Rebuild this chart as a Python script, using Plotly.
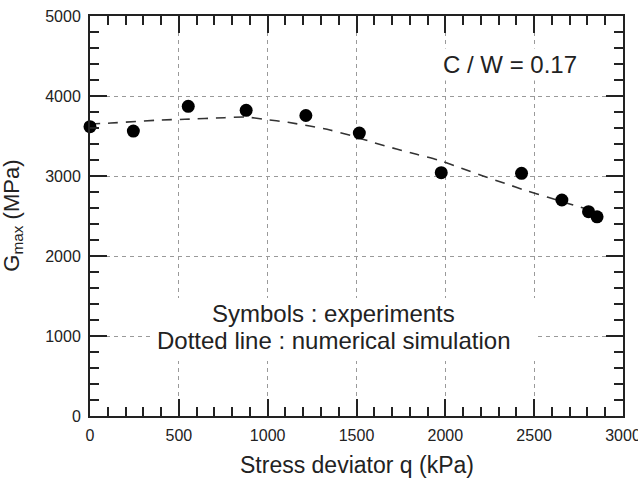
import plotly.graph_objects as go

# Experimental points (symbols)
q_exp = [0, 244, 553, 879, 1215, 1516, 1977, 2429, 2656, 2806, 2854]
g_exp = [3616, 3562, 3871, 3821, 3756, 3537, 3042, 3033, 2700, 2554, 2490]

# Numerical simulation (dashed line)
q_sim = [0, 118, 403, 534, 759, 870, 984, 1114, 1237, 1350, 1479, 1592,
         1725, 1838, 1959, 2091, 2212, 2334, 2456, 2578, 2700, 2820]
g_sim = [3650, 3662, 3700, 3709, 3729, 3738, 3708, 3671, 3625, 3575, 3500, 3421,
         3337, 3271, 3200, 3096, 3000, 2909, 2816, 2734, 2650, 2570]

x_ticks = [0, 500, 1000, 1500, 2000, 2500, 3000]
y_ticks = [0, 1000, 2000, 3000, 4000, 5000]

FONT = "Liberation Sans, Arial, sans-serif"
INK = "#222222"

fig = go.Figure()
fig.add_trace(go.Scatter(
    x=q_sim, y=g_sim, mode="lines",
    line=dict(color="#333333", width=1.6, dash="10px,8px", shape="spline", smoothing=0.6),
    hoverinfo="skip", showlegend=False))
fig.add_trace(go.Scatter(
    x=q_exp, y=g_exp, mode="markers",
    marker=dict(color="black", size=13, line=dict(width=0)),
    showlegend=False, cliponaxis=False))

axis_common = dict(
    showline=True, linecolor=INK, linewidth=2, mirror="allticks",
    ticks="inside", ticklen=17, tickwidth=1.5, tickcolor=INK,
    showgrid=True, gridcolor="#9a9a9a", gridwidth=1, griddash="4px,4px",
    zeroline=False, ticklabeloverflow="allow", automargin=False,
    tickfont=dict(family=FONT, size=16, color=INK),
)

fig.update_xaxes(range=[0, 3000], tickvals=x_ticks, ticktext=[str(v) for v in x_ticks],
                 minor=dict(dtick=100, ticks="inside", ticklen=9, tickwidth=1.5,
                            tickcolor=INK, showgrid=False),
                 ticklabelstandoff=4, **axis_common)
fig.update_yaxes(range=[0, 5000], tickvals=y_ticks, ticktext=[str(v) for v in y_ticks],
                 minor=dict(dtick=200, ticks="inside", ticklen=9, tickwidth=1.5,
                            tickcolor=INK, showgrid=False),
                 ticklabelstandoff=4, **axis_common)

# white box behind the explanatory text (hides gridlines)
fig.add_shape(type="rect", xref="x", yref="y", x0=338, x1=2509, y0=687, y1=1475,
              fillcolor="white", line=dict(width=0), layer="between")

fig.add_annotation(x=1372, y=1287, xref="x", yref="y", text="Symbols : experiments",
                   showarrow=False, font=dict(family=FONT, size=24, color=INK))
fig.add_annotation(x=1372, y=950, xref="x", yref="y", text="Dotted line : numerical simulation",
                   showarrow=False, font=dict(family=FONT, size=24, color=INK))
fig.add_annotation(x=2362, y=4388, xref="x", yref="y", text="C / W = 0.17",
                   showarrow=False, bgcolor="white", borderpad=2,
                   font=dict(family=FONT, size=24, color=INK))

# axis titles
fig.add_annotation(x=0.5, y=-0.122, xref="paper", yref="paper", yanchor="middle",
                   text="Stress deviator q (kPa)", showarrow=False,
                   font=dict(family=FONT, size=23, color=INK))
fig.add_annotation(x=-0.145, y=0.5, xref="paper", yref="paper", xanchor="center",
                   text="G<sub>max</sub> (MPa)", textangle=-90, showarrow=False,
                   font=dict(family=FONT, size=22, color=INK))

fig.update_layout(
    width=638, height=478,
    margin=dict(l=90, r=15, t=16, b=62),
    paper_bgcolor="white", plot_bgcolor="white",
    showlegend=False,
)

fig.write_html("out.html")
